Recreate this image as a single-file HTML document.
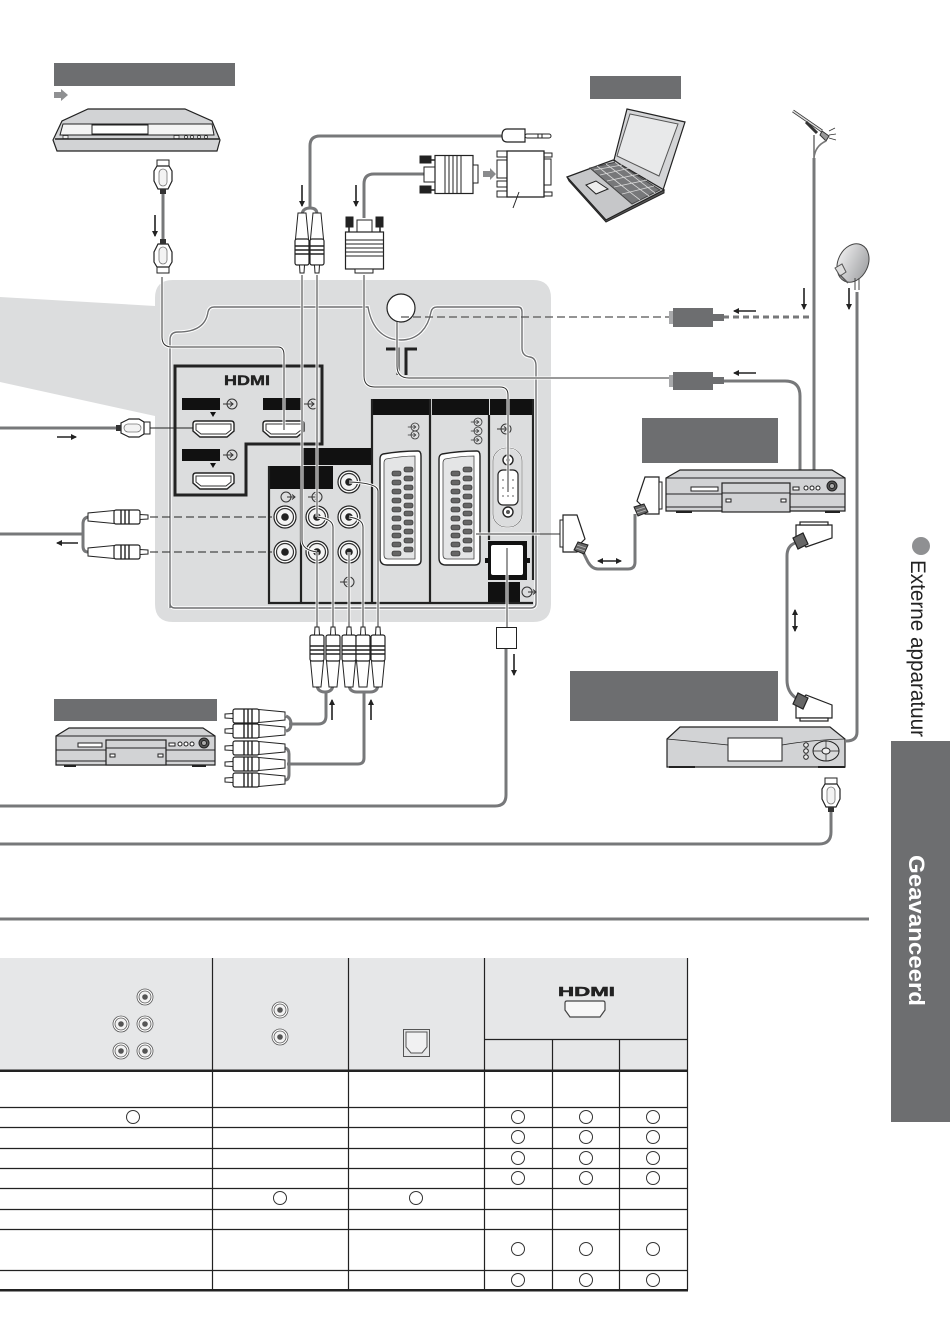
<!DOCTYPE html>
<html><head><meta charset="utf-8"><style>
html,body{margin:0;padding:0;background:#fff;width:950px;height:1344px;overflow:hidden}
svg{display:block}
text{font-family:"Liberation Sans",sans-serif}
</style></head><body>
<svg width="950" height="1344" viewBox="0 0 950 1344" xmlns="http://www.w3.org/2000/svg">
<defs>
<g id="rca">
<path d="M-4 0H4L6.500 26H-6.500Z" fill="#fff" stroke="#222" stroke-width="1"/>
<rect x="-7" y="26" width="14" height="26" rx="2" fill="#fff" stroke="#222" stroke-width="1.2"/>
<path d="M-7 33H7M-7 37H7M-7 41H7" stroke="#222" stroke-width="1.4"/>
<path d="M-2.500 52H2.500L2 60H-2Z" fill="#fff" stroke="#222" stroke-width="1"/>
</g>
<g id="hdmi">
<rect x="-6" y="0" width="12" height="6" fill="#fff" stroke="#222"/>
<path d="M-6 6H6L9 11V21L5 29H-5L-9 21V11Z" fill="#fff" stroke="#222" stroke-width="1.2"/>
<rect x="-4" y="9" width="8" height="17" rx="4" fill="#f3f3f3" stroke="#777" stroke-width=".8"/>
<rect x="-3" y="29" width="6" height="5" fill="#333"/>
</g>
<g id="jack">
<circle r="11" fill="#fff" stroke="#222" stroke-width="1.2"/>
<circle r="8.500" fill="#f4f4f4" stroke="#333" stroke-width="1.2"/>
<circle r="3.800" fill="#222"/>
</g>
<g id="scart">
<path d="M3 1Q20 -2 38 -2Q41 -2 41 3V107Q41 112 36 112H7Q0 112 0 105V6Q0 2 3 1Z" fill="#fff" stroke="#222" stroke-width="1.400"/>
<path d="M6 6Q22 3 35 3V106H8Q4 106 4 102V10Q4 7 6 6Z" fill="#e4e5e6" stroke="#444" stroke-width=".8"/>
<g fill="#666" stroke="#222" stroke-width=".6">
<rect x="24" y="14" width="9" height="5" rx="2"/><rect x="12" y="18" width="9" height="5" rx="2"/>
<rect x="24" y="23" width="9" height="5" rx="2"/><rect x="12" y="27" width="9" height="5" rx="2"/>
<rect x="24" y="32" width="9" height="5" rx="2"/><rect x="12" y="36" width="9" height="5" rx="2"/>
<rect x="24" y="41" width="9" height="5" rx="2"/><rect x="12" y="45" width="9" height="5" rx="2"/>
<rect x="24" y="50" width="9" height="5" rx="2"/><rect x="12" y="54" width="9" height="5" rx="2"/>
<rect x="24" y="58" width="9" height="5" rx="2"/><rect x="12" y="63" width="9" height="5" rx="2"/>
<rect x="24" y="67" width="9" height="5" rx="2"/><rect x="12" y="72" width="9" height="5" rx="2"/>
<rect x="24" y="76" width="9" height="5" rx="2"/><rect x="12" y="80" width="9" height="5" rx="2"/>
<rect x="24" y="85" width="9" height="5" rx="2"/><rect x="12" y="89" width="9" height="5" rx="2"/>
<rect x="24" y="94" width="9" height="5" rx="2"/><rect x="12" y="98" width="9" height="5" rx="2"/>
</g>
</g>
<g id="port">
<path d="M0 3Q0 0 3 0H38Q41 0 41 3V10L34 16H7L0 10Z" fill="#fff" stroke="#222" stroke-width="1.400"/>
<path d="M3 3H38V9L33 13H8L3 9Z" fill="#fff" stroke="#333" stroke-width="1"/>
</g>
<g id="sym" fill="none" stroke="#333" stroke-width="1"><circle r="5"/><path d="M-9 0H1M-2 -2.500L1 0L-2 2.500"/></g>
<g id="symo" fill="none" stroke="#333" stroke-width="1"><circle r="5"/><path d="M1 0H9M6 -2.500L9 0L6 2.500"/></g>
<g id="scplug">
<path d="M8 0H22V37H8L6 30L0 24Z" fill="#fff" stroke="#222" stroke-width="1.200"/>
<rect x="22" y="5" width="3" height="27" fill="#fff" stroke="#222"/>
<path d="M-3 30L7 27L11 35L1 39Z" fill="#666" stroke="#222"/>
<path d="M-1 33L8 30M0 36L9 33" stroke="#bbb" stroke-width=".8"/>
</g>
<g id="mj"><circle r="8" fill="#fff" stroke="#555" stroke-width=".8"/><circle r="6" fill="#f2f2f2" stroke="#555" stroke-width=".8"/><circle r="2.800" fill="#555"/></g>
<g id="tc"><ellipse rx="6.500" ry="6.500" fill="#fff" stroke="#333" stroke-width="1"/></g>
<marker id="ah" markerWidth="7" markerHeight="7" refX="5" refY="3" orient="auto-start-reverse" markerUnits="userSpaceOnUse"><path d="M0 0L6 3L0 6Z" fill="#222"/></marker>
<linearGradient id="dg" x1="0" y1="0" x2="1" y2="0"><stop offset="0" stop-color="#e8e8e9"/><stop offset="1" stop-color="#a6a7a9"/></linearGradient>
</defs>

<!-- side tab -->
<rect x="891" y="741" width="59" height="381" fill="#6d6e70"/>
<text transform="translate(909,855) rotate(90)" font-size="22" font-weight="bold" fill="#fff" textLength="151" lengthAdjust="spacingAndGlyphs">Geavanceerd</text>
<circle cx="921" cy="546" r="9" fill="#8f9092"/>
<text transform="translate(911,560) rotate(90)" font-size="21" fill="#222" textLength="177" lengthAdjust="spacingAndGlyphs">Externe apparatuur</text>

<!-- gray label boxes -->
<g fill="#6d6e70">
<rect x="54" y="63" width="181" height="23"/>
<rect x="590" y="76" width="91" height="23"/>
<rect x="642" y="418" width="136" height="45"/>
<rect x="570" y="671" width="208" height="50"/>
<rect x="54" y="699" width="163" height="22"/>
</g>
<path d="M54 92H61V89L68 95L61 101V98H54Z" fill="#8f9092"/>

<!-- TV panel -->
<path d="M0 297L155 306V298Q155 280 173 280H533Q551 280 551 298V604Q551 622 533 622H173Q155 622 155 604V416L0 382Z" fill="#dcddde"/>
<path d="M170 608V340Q170 332 178 332Q205 332 208 312Q209 307 214 307H368C372 330 385 340 401 340C418 340 428 328 431 312Q432 307 437 307H518Q522 307 522 312V348Q522 356 530 357Q536 358 536 366V603Q536 608 531 608H175Q170 608 170 603" fill="none" stroke="#fff" stroke-width="3.400"/>
<path d="M170 608V340Q170 332 178 332Q205 332 208 312Q209 307 214 307H368C372 330 385 340 401 340C418 340 428 328 431 312Q432 307 437 307H518Q522 307 522 312V348Q522 356 530 357Q536 358 536 366V603Q536 608 531 608H175Q170 608 170 603" fill="none" stroke="#6e6f71" stroke-width="1.400"/>

<!-- HDMI box -->
<path d="M175 366H322V444H246V495H175Z" fill="none" stroke="#222" stroke-width="3"/>
<text x="224" y="385" font-size="14" font-weight="bold" stroke="#222" stroke-width=".4" fill="#222" textLength="46" lengthAdjust="spacingAndGlyphs">HDMI</text>
<g fill="#111">
<rect x="182" y="398" width="38" height="12"/><rect x="263" y="398" width="38" height="12"/><rect x="182" y="449" width="38" height="12"/>
<path d="M210 412H216L213 417Z"/><path d="M210 463H216L213 468Z"/>
</g>
<use href="#sym" x="232" y="404"/><use href="#sym" x="313" y="404"/><use href="#sym" x="232" y="455"/>
<use href="#port" x="193" y="421"/><use href="#port" x="263" y="421"/><use href="#port" x="193" y="473"/>

<!-- AV block frame -->
<g fill="#111">
<rect x="303" y="448" width="69" height="17"/>
<rect x="269" y="466" width="64" height="23"/>
<rect x="371" y="399" width="58" height="16"/>
<rect x="432" y="399" width="57" height="16"/>
<rect x="490" y="399" width="43" height="16"/>
<rect x="488" y="541" width="39" height="39"/>
<rect x="488" y="582" width="32" height="20"/>
<rect x="485" y="558" width="3" height="5"/>
<rect x="527" y="558" width="3" height="5"/>
</g>
<path d="M269 466V603H533M301 489V603M372 399V603M430 399V603M489 415V540M533 399V580" fill="none" stroke="#222" stroke-width="2.200"/>
<rect x="491" y="545" width="32" height="30" rx="2" fill="#fff"/>
<use href="#symo" x="527" y="592"/>
<use href="#symo" x="286" y="497"/><use href="#sym" x="317" y="497"/><use href="#sym" x="349" y="582"/>
<use href="#sym" transform="translate(415,427) scale(.8)"/><use href="#sym" transform="translate(415,435) scale(.8)"/>
<use href="#sym" transform="translate(478,422) scale(.8)"/><use href="#sym" transform="translate(478,431) scale(.8)"/><use href="#sym" transform="translate(478,440) scale(.8)"/>
<use href="#sym" x="506" y="429"/>
<use href="#jack" x="349" y="482"/><use href="#jack" x="285" y="517"/><use href="#jack" x="317" y="517"/><use href="#jack" x="349" y="517"/>
<use href="#jack" x="285" y="552"/><use href="#jack" x="317" y="552"/><use href="#jack" x="349" y="552"/>
<use href="#scart" x="380" y="453"/><use href="#scart" x="439" y="453"/>
<!-- VGA socket -->
<rect x="493" y="448" width="29" height="79" rx="13" fill="none" stroke="#fff" stroke-width="1.400"/>
<rect x="493" y="448" width="29" height="79" rx="13" fill="none" stroke="#555" stroke-width=".6"/>
<rect x="498" y="470" width="20" height="35" rx="5" fill="#fff" stroke="#222" stroke-width="1.200"/>
<g fill="#777"><circle cx="503" cy="480" r=".9"/><circle cx="508" cy="480" r=".9"/><circle cx="513" cy="480" r=".9"/><circle cx="503" cy="488" r=".9"/><circle cx="508" cy="488" r=".9"/><circle cx="513" cy="488" r=".9"/><circle cx="503" cy="496" r=".9"/><circle cx="508" cy="496" r=".9"/><circle cx="513" cy="496" r=".9"/></g>
<circle cx="508" cy="460" r="5" fill="#fff" stroke="#222" stroke-width="1.400"/><circle cx="508" cy="460" r="2" fill="#555"/>
<circle cx="508" cy="512" r="5" fill="#fff" stroke="#222" stroke-width="1.400"/><circle cx="508" cy="512" r="2" fill="#555"/>

<!-- antenna port -->
<circle cx="401" cy="308" r="14" fill="#fff" stroke="#222" stroke-width="1.200"/>
<path d="M386 349H398V375M417 349H406V375" fill="none" stroke="#222" stroke-width="3"/>

<!-- thin connection lines -->
<path d="M162 277V337Q162 347 172 347H278Q284 347 284 355V430M364 275V376Q364 387 375 387H500Q508 387 508 395V492M397 322V366Q397 378 409 378H669M302 275V540Q302 550 317 552M317 275V517M317 552V628M333 628V527Q333 519 317 517M349 552V628M363 628V527Q363 519 349 517M378 628V491Q378 483 349 482M507 548V627M540 534H476" fill="none" stroke="#fff" stroke-width="3"/>
<path d="M162 277V337Q162 347 172 347H278Q284 347 284 355V430M364 275V376Q364 387 375 387H500Q508 387 508 395V492M397 322V366Q397 378 409 378H669M302 275V540Q302 550 317 552M317 275V517M317 552V628M333 628V527Q333 519 317 517M349 552V628M363 628V527Q363 519 349 517M378 628V491Q378 483 349 482M507 548V627M562 534H476" fill="none" stroke="#333" stroke-width="1"/>
<path d="M401 317H669" fill="none" stroke="#555" stroke-width="1.200" stroke-dasharray="8 4"/>
<path d="M150 517H272M150 552H272" fill="none" stroke="#222" stroke-width="1" stroke-dasharray="8 4"/>
<path d="M149 428H193" stroke="#222" stroke-width="1"/>

<!-- gray cables -->
<g fill="none" stroke="#77787a" stroke-width="3">
<path d="M163 193V240"/>
<path d="M0 428H116"/>
<path d="M310 209V146Q310 136 320 136H502"/>
<path d="M302 214Q303 208 310 208Q317 208 317 214"/>
<path d="M364 218V184Q364 174 374 174H424"/>
<path d="M814 158V470"/>
<path d="M723 381H785Q800 381 800 396V470"/>
<path d="M857 292V732Q857 741 846 741"/>
<path d="M583 552L588 562Q592 569 598 569H628Q635 569 635 562V514"/>
<path d="M795 543Q787 546 787 556V680Q787 692 796 698"/>
<path d="M317 684Q317 692 325 692Q333 692 333 684M349 684Q349 692 357 692H370Q378 692 378 684M326 692V716Q326 724 318 724H289M286 716Q291 718 291 724Q291 730 286 731M364 692V758Q364 764 358 764H287M285 748Q289 749 289 754V774Q289 780 285 780"/>
<path d="M831 812V832Q831 844 819 844H0"/>
<path d="M506 648V795Q506 806 495 806H0"/>
<path d="M0 534H84M88 517Q83 518 83 524V546Q83 552 88 552"/>
</g>
<path d="M723 317H810" fill="none" stroke="#77787a" stroke-width="3" stroke-dasharray="6 4"/>

<!-- optical plug square -->
<rect x="496.500" y="627.500" width="20" height="21" fill="#fff" stroke="#222"/>

<!-- plugs -->
<use href="#rca" x="302" y="213"/><use href="#rca" x="317" y="213"/>
<use href="#rca" transform="translate(317,687) scale(1,-1)"/><use href="#rca" transform="translate(333,687) scale(1,-1)"/>
<use href="#rca" transform="translate(349,687) scale(1,-1)"/><use href="#rca" transform="translate(363,687) scale(1,-1)"/><use href="#rca" transform="translate(378,687) scale(1,-1)"/>
<use href="#rca" transform="translate(285,716) rotate(90)"/><use href="#rca" transform="translate(285,731) rotate(90)"/>
<use href="#rca" transform="translate(285,748) rotate(90)"/><use href="#rca" transform="translate(285,764) rotate(90)"/><use href="#rca" transform="translate(285,780) rotate(90)"/>
<use href="#rca" transform="translate(88,517) rotate(-90)"/><use href="#rca" transform="translate(88,552) rotate(-90)"/>
<use href="#hdmi" x="163" y="160"/>
<use href="#hdmi" transform="translate(163,273) scale(1,-1)"/>
<use href="#hdmi" transform="translate(150,428) rotate(90)"/>
<use href="#hdmi" x="831" y="778"/>

<!-- VGA vertical -->
<g stroke="#222" fill="#fff">
<rect x="357" y="220" width="15" height="12" stroke-width="1"/>
<rect x="346" y="217" width="7" height="10" fill="#222"/><rect x="376" y="217" width="7" height="10" fill="#222"/>
<path d="M349 227V232M380 227V232" stroke-width="1.500"/>
<rect x="345.500" y="232" width="38" height="37" stroke-width="1.200"/>
<path d="M346 240H383M346 244H383M346 248H383M346 252H383M346 256H383" stroke-width="1"/>
<rect x="355" y="269" width="18" height="4" stroke-width="1"/>
</g>
<!-- VGA horizontal -->
<g stroke="#222" fill="#fff">
<rect x="424" y="167" width="11" height="15" stroke-width="1"/>
<rect x="420" y="156" width="11" height="7" fill="#222"/><rect x="420" y="186" width="11" height="7" fill="#222"/>
<path d="M431 160H435M431 190H435" stroke-width="1.500"/>
<rect x="435" y="155.500" width="38" height="38" stroke-width="1.200"/>
<path d="M445 156V193M449 156V193M453 156V193M457 156V193M461 156V193" stroke-width="1"/>
<rect x="473" y="165" width="5" height="18" stroke-width="1"/>
</g>
<path d="M483 171H490V168L496 174L490 180V177H483Z" fill="#8a8b8d"/>
<!-- adapter -->
<g stroke="#222" fill="#fff" stroke-width="1">
<rect x="497" y="151" width="10" height="6"/><rect x="497" y="160" width="10" height="18"/><rect x="497" y="181" width="10" height="6"/><rect x="497" y="191" width="10" height="6"/>
<rect x="544" y="153" width="8" height="4"/><rect x="544" y="159" width="7" height="26"/><rect x="544" y="192" width="8" height="4"/>
<rect x="507" y="151" width="37" height="46" stroke-width="1.300"/>
<path d="M519 192L513 208"/>
</g>
<!-- jack plug -->
<g stroke="#222" fill="#fff" stroke-width="1">
<rect x="525" y="134" width="26" height="4" rx="2"/>
<path d="M507 129H525V142H507Q502 142 502 136Q502 129 507 129Z" stroke-width="1.200"/>
<path d="M538 134V138M542 134V138"/>
</g>
<!-- coax -->
<g fill="#6d6e70">
<rect x="673" y="308" width="40" height="19"/><rect x="713" y="314" width="11" height="7"/>
<rect x="673" y="372" width="40" height="18"/><rect x="713" y="377" width="11" height="7"/>
</g>
<rect x="669" y="311" width="4" height="13" fill="#a8a9ab"/><rect x="669" y="375" width="4" height="12" fill="#a8a9ab"/>
<!-- scart plugs -->
<use href="#scplug" x="637" y="477"/>
<use href="#scplug" transform="translate(585,515) scale(-1,1)"/>
<g stroke="#222" stroke-width="1.200" fill="#fff">
<path d="M796 525H832V538L806 547L798 539L796 537Z"/><rect x="800" y="522" width="28" height="3"/>
<path d="M793 538L803 533L808 544L798 549Z" fill="#666"/>
<path d="M796 718H832V705L806 695L798 703L796 705Z"/><rect x="800" y="718" width="28" height="3"/>
<path d="M793 704L803 709L808 698L798 693Z" fill="#666"/>
</g>

<!-- DVD recorder -->
<g stroke="#222" stroke-width="1">
<path d="M88 109H185L212 121L220 140L217 151H57L53 140L62 121Z" fill="#d2d3d5" stroke-width="1.200"/>
<path d="M63 124H212L214 135H60Z" fill="#f4f4f4"/>
<path d="M92 125H148V134H92Z" fill="#fff"/>
<path d="M55 139H219" stroke-width="1.400"/>
<g fill="#eee" stroke-width=".7"><rect x="174" y="135.500" width="5" height="3"/><circle cx="186" cy="137" r="1.500"/><circle cx="192" cy="137" r="1.500"/><circle cx="199" cy="137" r="1.500"/><circle cx="206" cy="137" r="1.500"/><rect x="63" y="135.500" width="5" height="3"/></g>
</g>
<!-- DVD player right -->
<g stroke="#222" stroke-width="1">
<path d="M666 478L680 470H832L845 478V511H666Z" fill="#d2d3d5" stroke-width="1.200"/>
<path d="M666 478H845M666 494H845M666 507H845"/>
<rect x="722" y="483" width="68" height="29" fill="#d2d3d5" stroke-width="1.200"/>
<path d="M722 493H790"/>
<rect x="691" y="487" width="27" height="4" fill="#fff"/><rect x="726" y="499" width="5" height="3" fill="#fff"/><rect x="781" y="499" width="5" height="3" fill="#fff"/>
<rect x="793" y="487" width="6" height="3" fill="#fff"/>
<circle cx="806" cy="488" r="2" fill="#fff"/><circle cx="812" cy="488" r="2" fill="#fff"/><circle cx="818" cy="488" r="2" fill="#fff"/>
<circle cx="832" cy="486" r="5" fill="#555"/><circle cx="832" cy="486" r="2.500" fill="#aaa"/>
<path d="M676 512H692M825 512H840" stroke-width="2"/>
</g>
<!-- DVD player left -->
<g stroke="#222" stroke-width="1">
<path d="M56 736L69 728H203L215 736V765H56Z" fill="#d2d3d5" stroke-width="1.200"/>
<path d="M56 736H215M56 750H215M56 761H215"/>
<rect x="106" y="740" width="60" height="25" fill="#d2d3d5" stroke-width="1.200"/>
<path d="M106 748H166"/>
<rect x="78" y="743" width="24" height="4" fill="#fff"/><rect x="110" y="754" width="5" height="3" fill="#fff"/><rect x="158" y="754" width="5" height="3" fill="#fff"/>
<rect x="169" y="743" width="6" height="3" fill="#fff"/>
<circle cx="180" cy="744" r="2" fill="#fff"/><circle cx="186" cy="744" r="2" fill="#fff"/><circle cx="192" cy="744" r="2" fill="#fff"/>
<circle cx="204" cy="743" r="5" fill="#555"/><circle cx="204" cy="743" r="2.500" fill="#aaa"/>
<path d="M64 766H76M192 766H206" stroke-width="2"/>
</g>
<!-- receiver -->
<g stroke="#222" stroke-width="1">
<path d="M667 739L680 727H830L845 739V767H667Z" fill="#d2d3d5" stroke-width="1.200"/>
<path d="M667 739Q700 742 728 745M782 745Q810 740 845 739" fill="none" stroke-width=".8"/>
<rect x="728" y="738" width="54" height="23" fill="#fff"/>
<circle cx="806" cy="745" r="2.300" fill="#eee"/><circle cx="806" cy="751" r="2.300" fill="#eee"/><circle cx="806" cy="757" r="2.300" fill="#eee"/>
<ellipse cx="826" cy="751" rx="13" ry="10" fill="#d9dadb"/>
<path d="M826 741V761M813 751H839" stroke-width=".7"/>
<ellipse cx="826" cy="751" rx="4" ry="3" fill="#eee"/>
<path d="M669 767H695M818 767H845" stroke-width="2"/>
</g>

<!-- Laptop -->
<g stroke="#222" stroke-width="1">
<path d="M627 109L685 122L663 190L658 192L614 160Z" fill="#d4d5d7" stroke-width="1.200"/>
<path d="M630 114L678 124L659 176L617 156Z" fill="#e8e9ea" stroke="#555"/>
<path d="M567 177L613 160L664 190L606 220Z" fill="#c6c7c9" stroke-width="1.200"/>
<path d="M567 177L569 181L606 222L664 193L664 190L606 220Z" fill="#555"/>
<path d="M590 168L616 162L660 190L632 204Z" fill="#77787a" stroke="#444"/>
<path d="M597 166L640 200M606 164L649 196M615 162L655 193M594 170L622 165M600 175L630 168M607 181L639 174M614 187L647 180M622 194L654 186" fill="none" stroke="#d8d8d8" stroke-width=".8"/>
<path d="M586 185L596 181L608 189L596 194Z" fill="#eee"/>
</g>

<!-- antenna -->
<g stroke="#333" fill="none">
<path d="M793 111L822 131" stroke-width="3"/><path d="M793 111L822 131" stroke="#ddd" stroke-width="1.400"/>
<path d="M806 122L817 133" stroke-width="3"/>
<path d="M822 131L829 136L826 141L820 135Z" fill="#999"/>
<path d="M829 131L835 128M829 135L836 134M829 138L836 140" stroke-width=".8"/>
<path d="M814 135V158M814 158Q815 146 826 141" stroke="#777" stroke-width="1.600"/>
</g>
<!-- dish -->
<ellipse cx="853" cy="263" rx="15" ry="20" transform="rotate(25 853 263)" fill="url(#dg)" stroke="#444" stroke-width="1"/>
<path d="M835 268L842 264L846 272L840 276Z" fill="#ddd" stroke="#555"/>
<path d="M840 275L848 283" stroke="#555" stroke-width="1.500"/>
<path d="M855 278V290M859 278V290" stroke="#444" stroke-width="1"/>

<!-- arrows -->
<g stroke="#222" stroke-width="1.600" fill="none" marker-end="url(#ah)">
<path d="M155 215V236"/><path d="M302 185V206"/><path d="M356 185V206"/>
<path d="M756 311H734"/><path d="M756 373H734"/>
<path d="M804 288V309"/><path d="M849 288V309"/>
<path d="M57 437H76"/><path d="M78 543H57"/>
<path d="M332 720V700"/><path d="M371 720V700"/><path d="M514 654V675"/>
<path d="M598 561H621" marker-start="url(#ah)"/><path d="M795 610V631" marker-start="url(#ah)"/>
</g>

<!-- rule -->
<rect x="0" y="917.500" width="869" height="3" fill="#77787a"/>

<!-- table -->
<rect x="0" y="958" width="688" height="112" fill="#e6e7e8"/>
<g stroke="#222" stroke-width="1.200" fill="none">
<path d="M0 1107.500H688M0 1127.500H688M0 1148.500H688M0 1168.500H688M0 1188.500H688M0 1209.500H688M0 1229.500H688M0 1270.500H688"/>
<path d="M484 1039.500H688"/>
<path d="M212.500 958V1290M348.500 958V1290M484.500 958V1290M552.500 1039V1290M619.500 1039V1290M687.500 958V1290"/>
</g>
<rect x="0" y="1069.500" width="688" height="2.500" fill="#222"/>
<rect x="0" y="1289" width="688" height="2.500" fill="#222"/>
<use href="#mj" x="145" y="997"/><use href="#mj" x="121" y="1024"/><use href="#mj" x="145" y="1024"/><use href="#mj" x="121" y="1051"/><use href="#mj" x="145" y="1051"/>
<use href="#mj" x="280" y="1010"/><use href="#mj" x="280" y="1037"/>
<rect x="403.500" y="1029.500" width="26" height="27" fill="#e6e7e8" stroke="#555"/>
<path d="M406 1032H427V1047L422 1053H411L406 1047Z" fill="#f1f1f2" stroke="#555"/>
<text x="558" y="996" font-size="13" font-weight="bold" stroke="#222" stroke-width=".5" fill="#222" textLength="57" lengthAdjust="spacingAndGlyphs">HDMI</text>
<path d="M565 1003Q565 1001 567 1001H603Q605 1001 605 1003V1010L600 1017H570L565 1010Z" fill="#f6f6f6" stroke="#444" stroke-width="1.200"/>
<use href="#tc" x="133" y="1117"/><use href="#tc" x="280" y="1198"/><use href="#tc" x="416" y="1198"/>
<use href="#tc" x="518" y="1117"/><use href="#tc" x="586" y="1117"/><use href="#tc" x="653" y="1117"/>
<use href="#tc" x="518" y="1137"/><use href="#tc" x="586" y="1137"/><use href="#tc" x="653" y="1137"/>
<use href="#tc" x="518" y="1158"/><use href="#tc" x="586" y="1158"/><use href="#tc" x="653" y="1158"/>
<use href="#tc" x="518" y="1178"/><use href="#tc" x="586" y="1178"/><use href="#tc" x="653" y="1178"/>
<use href="#tc" x="518" y="1249"/><use href="#tc" x="586" y="1249"/><use href="#tc" x="653" y="1249"/>
<use href="#tc" x="518" y="1280"/><use href="#tc" x="586" y="1280"/><use href="#tc" x="653" y="1280"/>
</svg>
</body></html>
